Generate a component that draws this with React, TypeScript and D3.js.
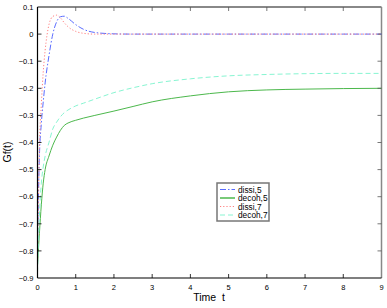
import React, { useEffect, useRef } from 'react';
import * as d3 from 'd3';

const times = [0, 0.05, 0.1, 0.15, 0.2, 0.3, 0.4, 0.5, 0.6, 0.7, 0.8, 1.0, 1.2, 1.5, 2, 2.5, 3, 4, 5, 6, 7, 8, 9];
const dissi5 = [-0.78, -0.45, -0.33, -0.25, -0.18, -0.08, 0.0, 0.045, 0.064, 0.066, 0.058, 0.035, 0.018, 0.006, 0.001, 0, 0, 0, 0, 0, 0, 0, 0];
const decoh5 = [-0.85, -0.735, -0.63, -0.55, -0.5, -0.45, -0.41, -0.38, -0.355, -0.337, -0.328, -0.318, -0.31, -0.3, -0.284, -0.267, -0.25, -0.228, -0.213, -0.206, -0.203, -0.201, -0.2];
const dissi7 = [-0.85, -0.42, -0.26, -0.14, -0.06, 0.035, 0.065, 0.07, 0.06, 0.042, 0.027, 0.01, 0.003, 0, 0, 0, 0, 0, 0, 0, 0, 0, 0];
const decoh7 = [-0.88, -0.67, -0.55, -0.49, -0.45, -0.4, -0.35, -0.325, -0.305, -0.29, -0.28, -0.265, -0.255, -0.24, -0.216, -0.198, -0.183, -0.165, -0.154, -0.149, -0.146, -0.145, -0.145];

const seriesNames = ['dissi,5', 'decoh,5', 'dissi,7', 'decoh,7'];
const xTicks = [0, 1, 2, 3, 4, 5, 6, 7, 8, 9];
const yTicks = [0.1, 0, -0.1, -0.2, -0.3, -0.4, -0.5, -0.6, -0.7, -0.8, -0.9];

const App: React.FC = () => {
  const ref = useRef<SVGSVGElement>(null);

  useEffect(() => {
    if (!ref.current) return;
    const svg = d3.select(ref.current);
    svg.selectAll('*').remove();

    const left = 37.5, right = 381.5, top = 7, bottom = 278;
    const x = d3.scaleLinear().domain([0, 9]).range([left, right]);
    const y = d3.scaleLinear().domain([-0.9, 0.1]).range([bottom, top]);

    const series = [
      { name: seriesNames[0], values: dissi5, color: '#5a6cff', dash: '6,2,1.5,2', width: 1 },
      { name: seriesNames[1], values: decoh5, color: '#4cb84c', dash: '', width: 1 },
      { name: seriesNames[2], values: dissi7, color: '#ff8080', dash: '1.2,2', width: 1 },
      { name: seriesNames[3], values: decoh7, color: '#88f5d2', dash: '5,3', width: 1 },
    ];

    const line = d3.line<[number, number]>()
      .x(d => x(d[0]))
      .y(d => y(d[1]))
      .curve(d3.curveMonotoneX);

    const font = 'Liberation Sans, Arial, sans-serif';

    // frame: top/right gray, bottom/left black
    svg.append('line').attr('x1', left).attr('x2', right).attr('y1', top).attr('y2', top)
      .attr('stroke', '#888').attr('stroke-width', 2);
    svg.append('line').attr('x1', right).attr('x2', right).attr('y1', top).attr('y2', bottom)
      .attr('stroke', '#888').attr('stroke-width', 1.5);

    series.forEach(s => {
      svg.append('path')
        .datum(times.map((t, i) => [t, s.values[i]] as [number, number]))
        .attr('d', line)
        .attr('fill', 'none')
        .attr('stroke', s.color)
        .attr('stroke-width', s.width)
        .attr('stroke-dasharray', s.dash || null);
    });

    svg.append('line').attr('x1', left).attr('x2', right).attr('y1', bottom).attr('y2', bottom)
      .attr('stroke', '#000').attr('stroke-width', 1.2);
    svg.append('line').attr('x1', left).attr('x2', left).attr('y1', top).attr('y2', bottom)
      .attr('stroke', '#000').attr('stroke-width', 1.2);

    // x ticks (inward, bottom and top)
    xTicks.forEach(t => {
      if (t > 0 && t < 9) {
        svg.append('line').attr('x1', x(t)).attr('x2', x(t)).attr('y1', bottom).attr('y2', bottom - 4)
          .attr('stroke', '#000').attr('stroke-width', 0.8);
        svg.append('line').attr('x1', x(t)).attr('x2', x(t)).attr('y1', top).attr('y2', top + 4)
          .attr('stroke', '#555').attr('stroke-width', 0.8);
      }
      svg.append('text').attr('x', x(t)).attr('y', bottom + 12)
        .attr('text-anchor', 'middle').attr('font-family', font).attr('font-size', 7.5)
        .text(String(t));
    });

    // y ticks (inward, left and right)
    yTicks.forEach(v => {
      if (v < 0.1 && v > -0.9) {
        svg.append('line').attr('x1', left).attr('x2', left + 4).attr('y1', y(v)).attr('y2', y(v))
          .attr('stroke', '#000').attr('stroke-width', 0.8);
        svg.append('line').attr('x1', right).attr('x2', right - 4).attr('y1', y(v)).attr('y2', y(v))
          .attr('stroke', '#555').attr('stroke-width', 0.8);
      }
      const label = v === 0 ? '0' : d3.format('.1f')(v).replace('-', '\u2212');
      svg.append('text').attr('x', left - 4).attr('y', y(v) + 2.7)
        .attr('text-anchor', 'end').attr('font-family', font).attr('font-size', 7.5)
        .text(label);
    });

    // axis labels
    svg.append('text').attr('x', 209).attr('y', 301)
      .attr('text-anchor', 'middle').attr('font-family', font).attr('font-size', 10.5)
      .style('white-space', 'pre')
      .text('Time  t');
    svg.append('text')
      .attr('transform', `translate(11,152) rotate(-90)`)
      .attr('text-anchor', 'middle').attr('font-family', font).attr('font-size', 10.5)
      .text('Gf(t)');

    // legend
    const lg = svg.append('g');
    lg.append('rect').attr('x', 217).attr('y', 183).attr('width', 52).attr('height', 38)
      .attr('fill', '#fff').attr('stroke', '#777').attr('stroke-width', 1.5);
    series.forEach((s, i) => {
      const ly = 189.5 + i * 8.5;
      lg.append('line').attr('x1', 220).attr('x2', 235).attr('y1', ly).attr('y2', ly)
        .attr('stroke', s.color).attr('stroke-width', s.name === 'decoh,5' ? 1.5 : 1)
        .attr('stroke-dasharray', s.dash || null);
      lg.append('text').attr('x', 238).attr('y', ly + 3)
        .attr('font-family', font).attr('font-size', 8.3)
        .text(s.name);
    });
  }, []);

  return <svg ref={ref} width={387} height={308} style={{ position: 'absolute', left: 0, top: 0 }} />;
};

export default App;
